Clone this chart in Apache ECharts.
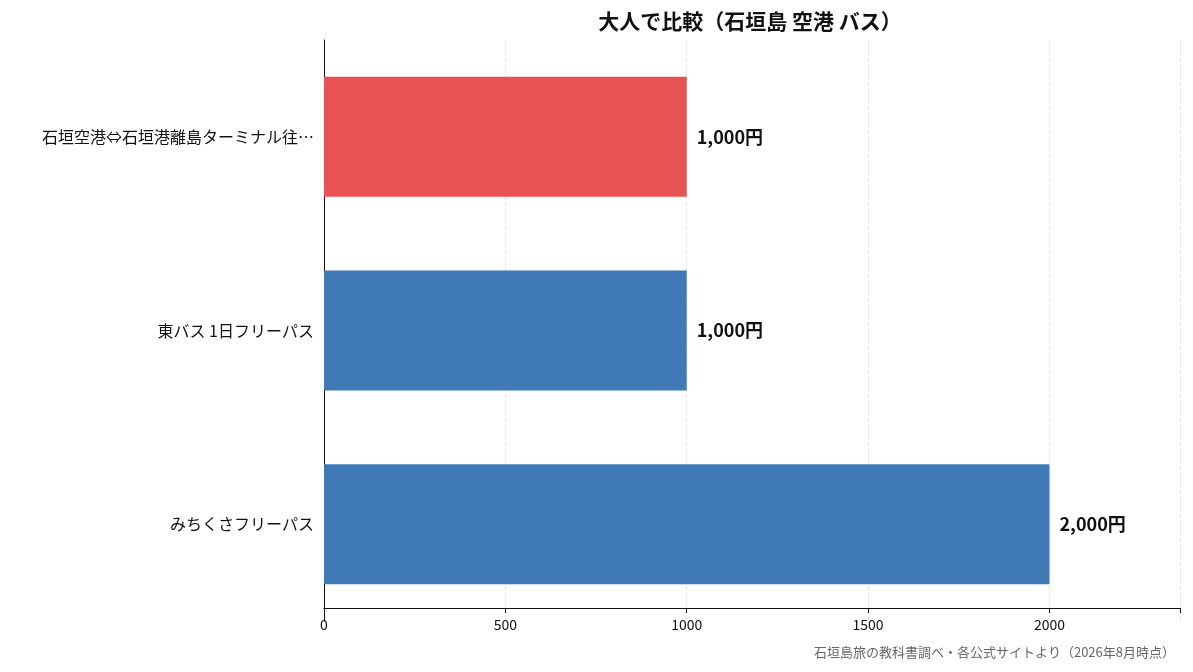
<!DOCTYPE html>
<html>
<head>
<meta charset="utf-8">
<script src="https://cdn.jsdelivr.net/npm/echarts@6/dist/echarts.min.js"></script>
<style>
  html, body { margin: 0; padding: 0; background: #fff; }
  #chart { width: 1193px; height: 672px; }
</style>
</head>
<body>
<div id="chart"></div>
<script>
// top to bottom
var categories = ['石垣空港⇔石垣港離島ターミナル往…', '東バス 1日フリーパス', 'みちくさフリーパス'];
var prices = [1000, 1000, 2000];
var barColors = ['#E85252', '#3F7AB7', '#3F7AB7'];

var font = '"Noto Sans CJK JP", sans-serif';
var chart = echarts.init(document.getElementById('chart'));
chart.setOption({
  textStyle: { fontFamily: font },
  title: {
    text: '大人で比較（石垣島 空港 バス）',
    left: 745, top: 6, textAlign: 'center',
    textStyle: { fontSize: 21, fontWeight: 'bold', color: '#111', fontFamily: font }
  },
  graphic: [{
    type: 'text', right: 18, top: 646,
    style: { text: '石垣島旅の教科書調べ・各公式サイトより（2026年8月時点）', fill: '#666', font: '13px ' + font }
  }],
  grid: { left: 324, right: 13, top: 40, bottom: 51 },
  xAxis: {
    type: 'value', min: 0, max: 2360, interval: 500, offset: -13,
    axisLine: { show: true, lineStyle: { color: '#111' } },
    axisTick: { show: true, lineStyle: { color: '#111' } },
    axisLabel: {
      color: '#111', fontSize: 14, margin: 10, fontFamily: font,
      formatter: function (v) { return v % 500 === 0 ? String(v) : ''; }
    },
    splitLine: { show: true, lineStyle: { type: 'dashed', color: '#e4e4e4' } }
  },
  yAxis: {
    type: 'category', data: categories, inverse: true,
    axisLine: { show: true, lineStyle: { color: '#111' } },
    axisTick: { show: false },
    axisLabel: { color: '#111', fontSize: 16, margin: 10, fontFamily: font }
  },
  series: [{
    type: 'bar', barWidth: '62%',
    data: prices.map(function (v, i) { return { value: v, itemStyle: { color: barColors[i] } }; }),
    label: {
      show: true, position: 'right', distance: 10,
      formatter: function (p) { return p.value.toLocaleString('en-US') + '円'; },
      fontSize: 18, fontWeight: 'bold', color: '#111', fontFamily: font
    }
  }]
});
</script>
</body>
</html>
